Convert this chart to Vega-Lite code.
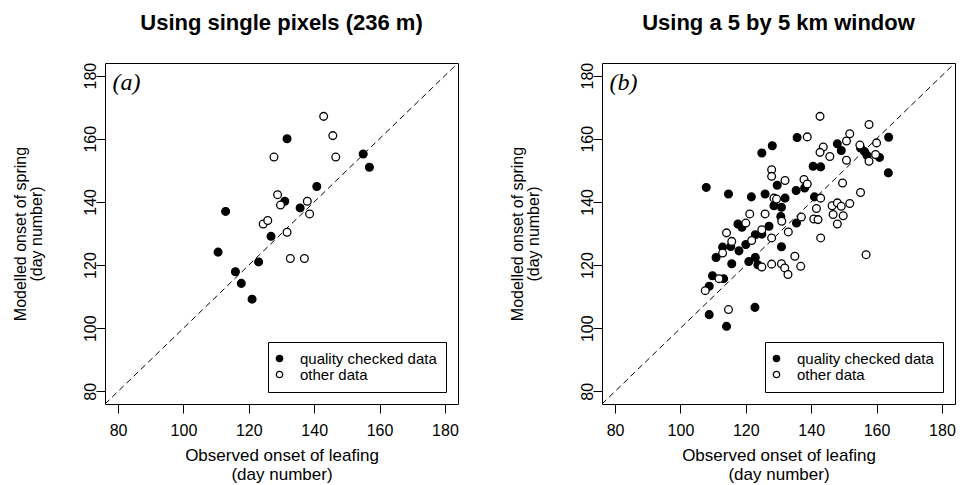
{
  "$schema": "https://vega.github.io/schema/vega-lite/v6.json",
  "padding": {"left": 12, "top": 11, "right": 5, "bottom": 5},
  "background": "white",
  "spacing": 144,
  "bounds": "flush",
  "config": {
    "font": "Liberation Sans",
    "view": {"stroke": "black", "strokeWidth": 1},
    "axis": {
      "domain": false,
      "grid": false,
      "ticks": true,
      "tickSize": 9,
      "tickColor": "black",
      "tickWidth": 1,
      "labelFont": "Liberation Sans",
      "labelFontSize": 16,
      "labelColor": "black",
      "titleFont": "Liberation Sans",
      "titleFontSize": 17,
      "titleFontWeight": "normal",
      "titleColor": "black"
    },
    "axisX": {"labelPadding": 9, "titlePadding": 9, "titleLineHeight": 19},
    "axisY": {"labelAngle": -90, "labelPadding": -2.5, "titlePadding": 38, "titleFontSize": 16, "titleLineHeight": 16},
    "title": {"font": "Liberation Sans", "fontSize": 22, "fontWeight": "bold", "color": "black", "frame": "group", "anchor": "middle", "offset": 27},
    "legend": {
      "orient": "bottom-right",
      "offset": 12,
      "strokeColor": "black",
      "fillColor": "white",
      "padding": 9,
      "rowPadding": 0,
      "symbolSize": 40,
      "symbolType": "circle",
      "symbolOffset": -5,
      "symbolStrokeColor": "black",
      "symbolStrokeWidth": 1.3,
      "labelFont": "Liberation Sans",
      "labelFontSize": 15,
      "labelColor": "black",
      "labelOffset": 13,
      "cornerRadius": 0
    }
  },
  "resolve": {"legend": {"fill": "independent"}},
  "hconcat": [
    {
      "title": "Using single pixels (236 m)",
      "width": 353,
      "height": 341,
      "layer": [
        {
          "data": {"values": [{}]},
          "mark": {"type": "rule", "strokeDash": [6, 4], "color": "black", "strokeWidth": 1},
          "encoding": {
            "x": {"datum": 76, "type": "quantitative"},
            "y": {"datum": 76, "type": "quantitative"},
            "x2": {"datum": 184},
            "y2": {"datum": 184}
          }
        },
        {
          "data": {"values": [
            {"observed": 131.7, "modelled": 160, "type": "quality checked data"},
            {"observed": 155, "modelled": 155.2, "type": "quality checked data"},
            {"observed": 156.9, "modelled": 151, "type": "quality checked data"},
            {"observed": 140.8, "modelled": 144.9, "type": "quality checked data"},
            {"observed": 131, "modelled": 140.2, "type": "quality checked data"},
            {"observed": 135.7, "modelled": 138.1, "type": "quality checked data"},
            {"observed": 112.9, "modelled": 137, "type": "quality checked data"},
            {"observed": 126.8, "modelled": 129.1, "type": "quality checked data"},
            {"observed": 110.6, "modelled": 124.1, "type": "quality checked data"},
            {"observed": 123, "modelled": 121, "type": "quality checked data"},
            {"observed": 115.9, "modelled": 117.9, "type": "quality checked data"},
            {"observed": 117.7, "modelled": 114.2, "type": "quality checked data"},
            {"observed": 121, "modelled": 109.2, "type": "quality checked data"},
            {"observed": 142.9, "modelled": 167.1, "type": "other data"},
            {"observed": 145.7, "modelled": 161, "type": "other data"},
            {"observed": 146.6, "modelled": 154.2, "type": "other data"},
            {"observed": 127.7, "modelled": 154.2, "type": "other data"},
            {"observed": 128.8, "modelled": 142.3, "type": "other data"},
            {"observed": 129.7, "modelled": 139, "type": "other data"},
            {"observed": 137.9, "modelled": 140.2, "type": "other data"},
            {"observed": 138.6, "modelled": 136.2, "type": "other data"},
            {"observed": 124.4, "modelled": 133, "type": "other data"},
            {"observed": 125.8, "modelled": 134.1, "type": "other data"},
            {"observed": 131.7, "modelled": 130.4, "type": "other data"},
            {"observed": 132.7, "modelled": 122.1, "type": "other data"},
            {"observed": 137, "modelled": 122.1, "type": "other data"}
          ]},
          "mark": {"type": "point", "shape": "circle", "filled": true, "size": 60, "stroke": "black", "strokeWidth": 1.3, "opacity": 1},
          "encoding": {
            "x": {"field": "observed", "type": "quantitative", "scale": {"domain": [76, 184], "nice": false, "zero": false},
                  "axis": {"values": [80, 100, 120, 140, 160, 180], "title": ["Observed onset of leafing", "(day number)"]}},
            "y": {"field": "modelled", "type": "quantitative", "scale": {"domain": [76, 184], "nice": false, "zero": false},
                  "axis": {"values": [80, 100, 120, 140, 160, 180], "title": ["Modelled onset of spring", "(day number)"]}},
            "fill": {"field": "type", "type": "nominal",
                     "scale": {"domain": ["quality checked data", "other data"], "range": ["black", "white"]},
                     "legend": {"title": null}}
          }
        },
        {
          "data": {"values": [{}]},
          "mark": {"type": "text", "text": "(a)", "font": "Liberation Serif", "fontStyle": "italic", "fontSize": 24, "align": "left", "baseline": "middle", "color": "black"},
          "encoding": {
            "x": {"datum": 78.3, "type": "quantitative"},
            "y": {"datum": 177.8, "type": "quantitative"}
          }
        }
      ]
    },
    {
      "title": "Using a 5 by 5 km window",
      "width": 353,
      "height": 341,
      "layer": [
        {
          "data": {"values": [{}]},
          "mark": {"type": "rule", "strokeDash": [6, 4], "color": "black", "strokeWidth": 1},
          "encoding": {
            "x": {"datum": 76, "type": "quantitative"},
            "y": {"datum": 76, "type": "quantitative"},
            "x2": {"datum": 184},
            "y2": {"datum": 184}
          }
        },
        {
          "data": {"values": [
            {"observed": 107.9, "modelled": 144.6, "type": "quality checked data"},
            {"observed": 114.7, "modelled": 142.5, "type": "quality checked data"},
            {"observed": 121.7, "modelled": 141.6, "type": "quality checked data"},
            {"observed": 125.9, "modelled": 142.5, "type": "quality checked data"},
            {"observed": 129.6, "modelled": 145.3, "type": "quality checked data"},
            {"observed": 124.9, "modelled": 155.5, "type": "quality checked data"},
            {"observed": 128.1, "modelled": 157.8, "type": "quality checked data"},
            {"observed": 135.7, "modelled": 160.4, "type": "quality checked data"},
            {"observed": 148.0, "modelled": 158.4, "type": "quality checked data"},
            {"observed": 149.2, "modelled": 156.3, "type": "quality checked data"},
            {"observed": 155.1, "modelled": 157.1, "type": "quality checked data"},
            {"observed": 156.3, "modelled": 156.0, "type": "quality checked data"},
            {"observed": 157.1, "modelled": 154.7, "type": "quality checked data"},
            {"observed": 160.9, "modelled": 154.1, "type": "quality checked data"},
            {"observed": 163.7, "modelled": 160.5, "type": "quality checked data"},
            {"observed": 163.6, "modelled": 149.2, "type": "quality checked data"},
            {"observed": 140.6, "modelled": 151.3, "type": "quality checked data"},
            {"observed": 142.9, "modelled": 151.1, "type": "quality checked data"},
            {"observed": 135.4, "modelled": 143.6, "type": "quality checked data"},
            {"observed": 138.0, "modelled": 144.4, "type": "quality checked data"},
            {"observed": 141.0, "modelled": 141.6, "type": "quality checked data"},
            {"observed": 132.0, "modelled": 141.2, "type": "quality checked data"},
            {"observed": 128.6, "modelled": 138.8, "type": "quality checked data"},
            {"observed": 130.9, "modelled": 138.3, "type": "quality checked data"},
            {"observed": 130.7, "modelled": 135.4, "type": "quality checked data"},
            {"observed": 135.5, "modelled": 133.3, "type": "quality checked data"},
            {"observed": 127.1, "modelled": 132.3, "type": "quality checked data"},
            {"observed": 117.6, "modelled": 133.0, "type": "quality checked data"},
            {"observed": 118.8, "modelled": 132.0, "type": "quality checked data"},
            {"observed": 122.9, "modelled": 129.6, "type": "quality checked data"},
            {"observed": 124.9, "modelled": 129.8, "type": "quality checked data"},
            {"observed": 120.0, "modelled": 126.5, "type": "quality checked data"},
            {"observed": 117.9, "modelled": 124.5, "type": "quality checked data"},
            {"observed": 115.4, "modelled": 125.9, "type": "quality checked data"},
            {"observed": 112.9, "modelled": 125.7, "type": "quality checked data"},
            {"observed": 110.9, "modelled": 122.4, "type": "quality checked data"},
            {"observed": 115.7, "modelled": 120.4, "type": "quality checked data"},
            {"observed": 120.9, "modelled": 121.1, "type": "quality checked data"},
            {"observed": 122.9, "modelled": 122.4, "type": "quality checked data"},
            {"observed": 123.7, "modelled": 120.1, "type": "quality checked data"},
            {"observed": 130.9, "modelled": 125.8, "type": "quality checked data"},
            {"observed": 109.8, "modelled": 116.6, "type": "quality checked data"},
            {"observed": 113.2, "modelled": 115.7, "type": "quality checked data"},
            {"observed": 108.8, "modelled": 113.3, "type": "quality checked data"},
            {"observed": 108.8, "modelled": 104.3, "type": "quality checked data"},
            {"observed": 114.1, "modelled": 100.6, "type": "quality checked data"},
            {"observed": 122.8, "modelled": 106.6, "type": "quality checked data"},
            {"observed": 132.0, "modelled": 146.8, "type": "other data"},
            {"observed": 127.9, "modelled": 150.2, "type": "other data"},
            {"observed": 127.9, "modelled": 148.1, "type": "other data"},
            {"observed": 138.8, "modelled": 160.6, "type": "other data"},
            {"observed": 142.7, "modelled": 167.1, "type": "other data"},
            {"observed": 143.7, "modelled": 157.4, "type": "other data"},
            {"observed": 142.7, "modelled": 155.7, "type": "other data"},
            {"observed": 145.7, "modelled": 154.4, "type": "other data"},
            {"observed": 150.8, "modelled": 159.3, "type": "other data"},
            {"observed": 151.8, "modelled": 161.6, "type": "other data"},
            {"observed": 150.8, "modelled": 153.2, "type": "other data"},
            {"observed": 154.9, "modelled": 158.0, "type": "other data"},
            {"observed": 157.7, "modelled": 164.5, "type": "other data"},
            {"observed": 160.0, "modelled": 158.7, "type": "other data"},
            {"observed": 157.7, "modelled": 152.9, "type": "other data"},
            {"observed": 159.7, "modelled": 155.0, "type": "other data"},
            {"observed": 137.8, "modelled": 147.1, "type": "other data"},
            {"observed": 138.8, "modelled": 145.7, "type": "other data"},
            {"observed": 142.9, "modelled": 141.2, "type": "other data"},
            {"observed": 128.6, "modelled": 141.2, "type": "other data"},
            {"observed": 129.4, "modelled": 140.9, "type": "other data"},
            {"observed": 121.2, "modelled": 136.2, "type": "other data"},
            {"observed": 125.9, "modelled": 136.2, "type": "other data"},
            {"observed": 131.0, "modelled": 133.9, "type": "other data"},
            {"observed": 137.0, "modelled": 135.2, "type": "other data"},
            {"observed": 133.0, "modelled": 130.5, "type": "other data"},
            {"observed": 127.9, "modelled": 128.6, "type": "other data"},
            {"observed": 120.0, "modelled": 133.3, "type": "other data"},
            {"observed": 121.8, "modelled": 127.8, "type": "other data"},
            {"observed": 124.9, "modelled": 131.2, "type": "other data"},
            {"observed": 115.7, "modelled": 127.5, "type": "other data"},
            {"observed": 114.1, "modelled": 130.2, "type": "other data"},
            {"observed": 112.9, "modelled": 123.8, "type": "other data"},
            {"observed": 124.9, "modelled": 119.4, "type": "other data"},
            {"observed": 127.9, "modelled": 120.3, "type": "other data"},
            {"observed": 130.9, "modelled": 120.4, "type": "other data"},
            {"observed": 131.9, "modelled": 119.1, "type": "other data"},
            {"observed": 132.9, "modelled": 117.0, "type": "other data"},
            {"observed": 135.0, "modelled": 122.8, "type": "other data"},
            {"observed": 136.8, "modelled": 119.6, "type": "other data"},
            {"observed": 111.8, "modelled": 115.7, "type": "other data"},
            {"observed": 107.6, "modelled": 111.9, "type": "other data"},
            {"observed": 114.7, "modelled": 105.9, "type": "other data"},
            {"observed": 142.9, "modelled": 128.6, "type": "other data"},
            {"observed": 140.8, "modelled": 134.6, "type": "other data"},
            {"observed": 142.1, "modelled": 134.4, "type": "other data"},
            {"observed": 141.6, "modelled": 137.9, "type": "other data"},
            {"observed": 146.4, "modelled": 138.8, "type": "other data"},
            {"observed": 148.0, "modelled": 139.7, "type": "other data"},
            {"observed": 149.2, "modelled": 138.6, "type": "other data"},
            {"observed": 146.7, "modelled": 136.0, "type": "other data"},
            {"observed": 149.8, "modelled": 135.6, "type": "other data"},
            {"observed": 148.0, "modelled": 133.0, "type": "other data"},
            {"observed": 151.8, "modelled": 139.5, "type": "other data"},
            {"observed": 149.6, "modelled": 146.0, "type": "other data"},
            {"observed": 155.1, "modelled": 143.0, "type": "other data"},
            {"observed": 156.8, "modelled": 123.3, "type": "other data"}
          ]},
          "mark": {"type": "point", "shape": "circle", "filled": true, "size": 60, "stroke": "black", "strokeWidth": 1.3, "opacity": 1},
          "encoding": {
            "x": {"field": "observed", "type": "quantitative", "scale": {"domain": [76, 184], "nice": false, "zero": false},
                  "axis": {"values": [80, 100, 120, 140, 160, 180], "title": ["Observed onset of leafing", "(day number)"]}},
            "y": {"field": "modelled", "type": "quantitative", "scale": {"domain": [76, 184], "nice": false, "zero": false},
                  "axis": {"values": [80, 100, 120, 140, 160, 180], "title": ["Modelled onset of spring", "(day number)"]}},
            "fill": {"field": "type", "type": "nominal",
                     "scale": {"domain": ["quality checked data", "other data"], "range": ["black", "white"]},
                     "legend": {"title": null}}
          }
        },
        {
          "data": {"values": [{}]},
          "mark": {"type": "text", "text": "(b)", "font": "Liberation Serif", "fontStyle": "italic", "fontSize": 24, "align": "left", "baseline": "middle", "color": "black"},
          "encoding": {
            "x": {"datum": 78.3, "type": "quantitative"},
            "y": {"datum": 177.8, "type": "quantitative"}
          }
        }
      ]
    }
  ]
}
